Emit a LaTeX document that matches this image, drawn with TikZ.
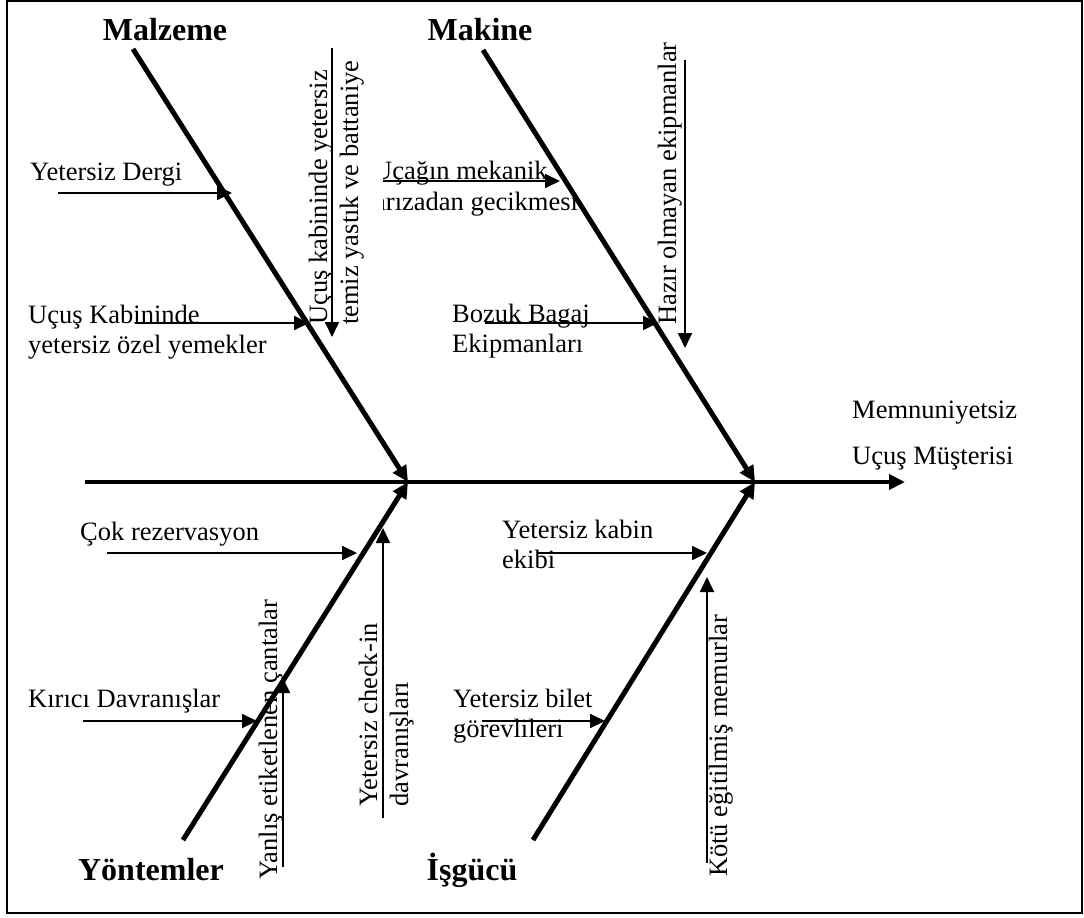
\documentclass[tikz,border=0pt]{standalone}
\usepackage{fontspec}
\setmainfont{Liberation Serif}
\usetikzlibrary{arrows.meta}

\begin{document}
\begin{tikzpicture}[x=1pt,y=-1pt,
  txt/.style={inner sep=0pt,anchor=base west,font=\fontsize{26.5}{30}\selectfont},
  rtxt/.style={txt,rotate=90},
  head/.style={inner sep=0pt,anchor=base,font=\fontsize{32}{36}\selectfont\bfseries},
  cause/.style={line width=1.8pt,-{Triangle[length=15pt,width=14pt]}},
  bone/.style={line width=5pt,-{Triangle[length=16pt,width=15pt]}},
  spine/.style={line width=4pt,-{Triangle[length=16pt,width=15pt]}}]

% page and frame
\useasboundingbox (0,0) rectangle (1084,918);
\draw[line width=1.6pt] (7,1) rectangle (1082,913);

% spine and the four main bones
\coordinate (sTail) at (85,482);
\coordinate (sHead) at (905,482);
\coordinate (jA) at (408,482);
\coordinate (jB) at (755,482);
\coordinate (bMal) at (133,49);
\coordinate (bMak) at (483,50);
\coordinate (bYon) at (183,840);
\coordinate (bIsg) at (533,840);
\draw[spine] (sTail) -- (sHead);
\draw[bone] (bMal) -- (jA);
\draw[bone] (bMak) -- (jB);
\draw[bone] (bYon) -- (jA);
\draw[bone] (bIsg) -- (jB);

% category headings
\node[head] (hMal) at (165,40) {Malzeme};
\node[head] (hMak) at (480,40) {Makine};
\node[head] (hYon) at (151,880) {Yöntemler};
\node[head] (hIsg) at (472,880) {İşgücü};

% effect
\node[txt] (eff1) at (852,418) {Memnuniyetsiz};
\node[txt] (eff2) at (852,464) {Uçuş Müşterisi};

% --- Malzeme ---
\node[txt] (c1) at (30,180) {Yetersiz Dergi};
\coordinate (c1s) at (58,193);
\coordinate (c1t) at (232,193);
\draw[cause] (c1s) -- (c1t);

\node[txt] (c2a) at (28,323) {Uçuş Kabininde};
\node[txt] (c2b) at (28,353) {yetersiz özel yemekler};
\coordinate (c2s) at (135,323);
\coordinate (c2t) at (309,323);
\draw[cause] (c2s) -- (c2t);

\node[rtxt] (c3a) at (327,325) {Uçuş kabininde yetersiz};
\node[rtxt] (c3b) at (358,325) {temiz yastık ve battaniye};
\coordinate (c3s) at (332,48);
\coordinate (c3t) at (332,337);
\draw[cause] (c3s) -- (c3t);

% --- Makine ---
\begin{scope}
  \clip (383,140) rectangle (720,230);
  \node[txt] (c4a) at (373,179) {Uçağın mekanik};
  \node[txt] (c4b) at (374,210) {arızadan gecikmesi};
\end{scope}
\coordinate (c4s) at (383,181);
\coordinate (c4t) at (560,181);
\draw[cause] (c4s) -- (c4t);

\node[txt] (c5a) at (452,322) {Bozuk Bagaj};
\node[txt] (c5b) at (452,352) {Ekipmanları};
\coordinate (c5s) at (485,323);
\coordinate (c5t) at (658,323);
\draw[cause] (c5s) -- (c5t);

\node[rtxt] (c6) at (676,325) {Hazır olmayan ekipmanlar};
\coordinate (c6s) at (685,60);
\coordinate (c6t) at (685,348);
\draw[cause] (c6s) -- (c6t);

% --- Yöntemler ---
\node[txt] (c7) at (80,540) {Çok rezervasyon};
\coordinate (c7s) at (107,553);
\coordinate (c7t) at (357,553);
\draw[cause] (c7s) -- (c7t);

\node[txt] (c8) at (28,707) {Kırıcı Davranışlar};
\coordinate (c8s) at (83,721);
\coordinate (c8t) at (257,721);
\draw[cause] (c8s) -- (c8t);

\node[rtxt] (c9) at (277,880) {Yanlış etiketlenen çantalar};
\coordinate (c9s) at (283,867);
\coordinate (c9t) at (283,678);
\draw[cause] (c9s) -- (c9t);

\node[rtxt] (c10a) at (377,807) {Yetersiz check-in};
\node[rtxt] (c10b) at (408,807) {davranışları};
\coordinate (c10s) at (383,818);
\coordinate (c10t) at (383,528);
\draw[cause] (c10s) -- (c10t);

% --- İşgücü ---
\node[txt] (c11a) at (502,538) {Yetersiz kabin};
\node[txt] (c11b) at (502,568) {ekibi};
\coordinate (c11s) at (537,553);
\coordinate (c11t) at (707,553);
\draw[cause] (c11s) -- (c11t);

\node[txt] (c12a) at (453,707) {Yetersiz bilet};
\node[txt] (c12b) at (453,737) {görevlileri};
\coordinate (c12s) at (482,721);
\coordinate (c12t) at (605,721);
\draw[cause] (c12s) -- (c12t);

\node[rtxt] (c13) at (727,877) {Kötü eğitilmiş memurlar};
\coordinate (c13s) at (707,863);
\coordinate (c13t) at (707,577);
\draw[cause] (c13s) -- (c13t);

\end{tikzpicture}
\end{document}
